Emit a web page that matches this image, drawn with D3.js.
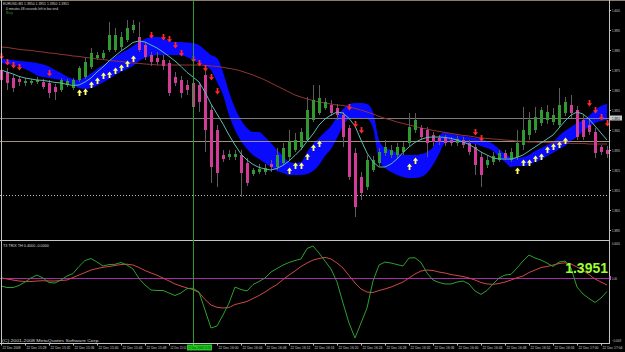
<!DOCTYPE html>
<html>
<head>
<meta charset="utf-8">
<script src="https://cdn.jsdelivr.net/npm/d3@7"></script>
<style>
html, body { margin: 0; padding: 0; background: #000; }
svg { display: block; font-family: "Liberation Sans", Arial, sans-serif; }
</style>
</head>
<body>
<svg id="chart" width="625" height="352"></svg>
<script>
// ---- candles, one per minute bar (bar 0 is at the left edge)
var openP = [1.3975,
1.3974,1.3971,1.39705,1.39685,1.39685,1.3969,1.3969,1.39685,1.39665,1.3965,
1.39675,1.3966,1.397,1.39715,1.39765,1.3981,1.3981,1.3985,1.3985,1.39865,
1.399,1.3995,1.39915,1.39875,1.39825,1.3981,1.398,1.39785,1.39715,1.397,
1.39675,1.39685,1.39675,1.39725,1.3955,1.3945,1.39325,1.39315,1.39315,1.39325,
1.39285,1.3923,1.3924,1.3924,1.3928,1.39265,1.39285,1.39315,1.3935,1.39365,
1.394,1.395,1.39535,1.3956,1.39575,1.3956,1.39525,1.3946,1.39335,1.39215,
1.39165,1.3925,1.39285,1.39335,1.39325,1.39325,1.3934,1.39385,1.3945,1.3946,
1.3945,1.39425,1.3941,1.3941,1.394,1.39385,1.394,1.39385,1.39365,1.39315,
1.39275,1.3929,1.393,1.39335,1.393,1.39315,1.39375,1.39425,1.3945,1.39485,
1.395,1.3949,1.39475,1.39535,1.39575,1.3955,1.395,1.39475,1.3944,1.39365,
1.3935];
var highP = [1.3977,
1.3976,1.3973,1.3972,1.3971,1.39705,1.39715,1.39705,1.397,1.3968,1.3971,
1.39705,1.3971,1.3977,1.3981,1.3986,1.3984,1.3985,1.3999,1.3996,1.3994,
1.4,1.4,1.3999,1.3989,1.3984,1.3984,1.39825,1.398,1.3974,1.3972,
1.397,1.397,1.3969,1.3975,1.39575,1.39475,1.3935,1.3935,1.3935,1.3935,
1.3931,1.3926,1.3928,1.3928,1.393,1.3936,1.39385,1.3945,1.39435,1.3946,
1.39615,1.39675,1.39675,1.3961,1.396,1.3958,1.3954,1.39475,1.3936,1.3924,
1.39325,1.3932,1.3936,1.394,1.39375,1.39385,1.3939,1.39535,1.39535,1.39475,
1.39465,1.3944,1.39425,1.39425,1.39415,1.3942,1.39415,1.394,1.3938,1.3934,
1.3932,1.3934,1.3935,1.3935,1.3936,1.3945,1.39565,1.3954,1.39565,1.39565,
1.39575,1.3956,1.3966,1.39615,1.39625,1.3957,1.39525,1.395,1.3946,1.39375,
1.3937];
var lowP = [1.3966,
1.3965,1.3964,1.3967,1.3967,1.39675,1.3968,1.39655,1.3961,1.396,1.3964,
1.39665,1.3965,1.3969,1.39705,1.39755,1.398,1.398,1.3984,1.3984,1.3985,
1.3989,1.39935,1.3984,1.398,1.3977,1.39775,1.3975,1.3962,1.3967,1.3961,
1.39625,1.3955,1.3954,1.3934,1.39185,1.39165,1.3929,1.393,1.393,1.39115,
1.3917,1.3922,1.3923,1.39225,1.3924,1.3925,1.39275,1.393,1.3934,1.3935,
1.3939,1.3949,1.39525,1.3955,1.3952,1.395,1.39365,1.392,1.39015,1.391,
1.3915,1.3924,1.3927,1.3932,1.3931,1.3931,1.39325,1.3937,1.39435,1.394,
1.39315,1.3937,1.39375,1.3937,1.3937,1.3937,1.3936,1.39325,1.39225,1.39165,
1.3926,1.39275,1.3929,1.393,1.3929,1.393,1.3935,1.394,1.39435,1.3947,
1.3948,1.39475,1.3946,1.3952,1.3951,1.394,1.394,1.39425,1.3931,1.39325,
1.3931];
var closeP = [1.397,
1.39685,1.3966,1.3969,1.39695,1.39695,1.397,1.39665,1.39635,1.3964,1.397,
1.39695,1.397,1.3976,1.3979,1.39835,1.39825,1.39835,1.39925,1.39925,1.39915,
1.3996,1.39975,1.3985,1.39815,1.3979,1.3979,1.3977,1.39635,1.39685,1.39635,
1.3965,1.39565,1.3959,1.3945,1.39265,1.39235,1.39305,1.3933,1.3933,1.39235,
1.39185,1.3925,1.39255,1.3926,1.39265,1.39325,1.3936,1.3939,1.394,1.3944,
1.3955,1.396,1.3961,1.3959,1.39535,1.39525,1.39415,1.39215,1.39065,1.39135,
1.393,1.393,1.3934,1.39365,1.3935,1.39365,1.39365,1.39465,1.395,1.39415,
1.39385,1.3939,1.3939,1.39385,1.39385,1.39405,1.39375,1.3934,1.39275,1.39225,
1.393,1.3932,1.39335,1.3931,1.3934,1.39385,1.3945,1.395,1.39515,1.3955,
1.3954,1.39525,1.39575,1.3959,1.39535,1.39415,1.39415,1.3944,1.39335,1.3934,
1.3933];

// ---- overlays
var maFast = [1.3975,
1.3974,1.3973,1.39718,1.3971,1.39705,1.397,1.39698,1.39693,1.39688,1.39685,
1.39678,1.39673,1.39675,1.3969,1.3971,1.3974,1.39765,1.39795,1.3982,1.39845,
1.39865,1.39888,1.39895,1.3989,1.39875,1.3986,1.3984,1.39818,1.39795,1.39768,
1.39738,1.39715,1.3969,1.3964,1.3958,1.3953,1.3948,1.39425,1.39375,1.3933,
1.393,1.39278,1.39263,1.39255,1.3925,1.39258,1.39273,1.39295,1.39323,1.39353,
1.39393,1.3943,1.39475,1.39505,1.39525,1.3954,1.39535,1.39508,1.3947,1.394,
1.39335,1.3929,1.39265,1.39265,1.3928,1.39305,1.39338,1.39365,1.39388,1.39403,
1.39413,1.39415,1.39415,1.39413,1.39408,1.394,1.3939,1.39378,1.3936,1.3934,
1.39325,1.3931,1.39305,1.39305,1.39305,1.39313,1.39325,1.39345,1.39365,1.39385,
1.39405,1.39425,1.3946,1.39495,1.39525,1.3954,1.3953,1.39505,1.3947,1.39435,
1.394];
var maSlow = [1.39865,
1.39863,1.39858,1.39853,1.3985,1.39848,1.39843,1.3984,1.39835,1.39833,1.39828,
1.39825,1.3982,1.39818,1.39813,1.3981,1.39805,1.39803,1.39798,1.39795,1.39793,
1.39788,1.39785,1.39783,1.3978,1.39778,1.39775,1.39775,1.39775,1.39775,1.39775,
1.39775,1.39775,1.39775,1.39773,1.3977,1.39768,1.39763,1.39758,1.39753,1.39745,
1.39735,1.39725,1.39713,1.397,1.39685,1.3967,1.39655,1.3964,1.39625,1.39615,
1.39605,1.39598,1.3959,1.39585,1.3958,1.39575,1.39573,1.39565,1.39558,1.3955,
1.3954,1.3953,1.39518,1.39508,1.395,1.3949,1.39483,1.39475,1.39468,1.3946,
1.39455,1.39448,1.39443,1.39438,1.39433,1.39428,1.39423,1.3942,1.39415,1.3941,
1.39408,1.39405,1.39403,1.394,1.39398,1.39395,1.39393,1.3939,1.3939,1.39388,
1.39388,1.39385,1.39385,1.39385,1.39383,1.39383,1.39383,1.3938,1.3938,1.3938,
1.3938];
var bandHi = [1.39805,
1.39803,1.398,1.39795,1.39793,1.3979,1.39785,1.39778,1.39768,1.3975,1.39735,
1.39718,1.39705,1.397,1.39715,1.39733,1.39755,1.39775,1.39795,1.39815,1.39835,
1.3985,1.3987,1.3989,1.39905,1.39915,1.39915,1.3991,1.39895,1.3989,1.3989,
1.39888,1.39885,1.39875,1.3985,1.39825,1.3981,1.3974,1.3964,1.3956,1.395,
1.3946,1.3944,1.3944,1.39415,1.39385,1.3935,1.3932,1.3929,1.39285,1.3929,
1.3934,1.3938,1.3941,1.3944,1.3947,1.39515,1.39555,1.3958,1.39585,1.39585,
1.3958,1.3954,1.394,1.3936,1.3935,1.39335,1.39325,1.39325,1.39325,1.3933,
1.3934,1.39365,1.3942,1.3944,1.3943,1.39425,1.3942,1.39415,1.3941,1.39405,
1.39395,1.3938,1.39355,1.3933,1.39315,1.3931,1.39315,1.39325,1.39345,1.3936,
1.39375,1.3939,1.3942,1.39445,1.39465,1.39485,1.395,1.3952,1.3955,1.3957,
1.3958];
var bandLo = [1.39785,
1.3978,1.39775,1.39768,1.39755,1.3974,1.39723,1.39715,1.3971,1.39705,1.397,
1.3969,1.39678,1.3966,1.39655,1.3966,1.39673,1.39688,1.39705,1.39725,1.3974,
1.39755,1.3977,1.39795,1.3981,1.3982,1.39825,1.39825,1.39825,1.39825,1.39823,
1.39815,1.398,1.39785,1.3977,1.3975,1.3969,1.39625,1.39525,1.3945,1.39395,
1.39355,1.39325,1.39305,1.39285,1.39265,1.39245,1.39235,1.39225,1.39225,1.39225,
1.3923,1.39245,1.39275,1.3932,1.39355,1.3941,1.3947,1.39505,1.3951,1.3951,
1.39505,1.3946,1.393,1.3926,1.3924,1.39225,1.39215,1.3921,1.3921,1.39215,
1.39235,1.39275,1.3933,1.39385,1.3939,1.3939,1.39388,1.39385,1.3938,1.3937,
1.3936,1.39345,1.39315,1.3929,1.39265,1.3927,1.3927,1.39275,1.3929,1.393,
1.3932,1.39335,1.39355,1.3937,1.39395,1.39415,1.39445,1.39465,1.39485,1.39495,
1.395];

// signal arrows
var sellBar = [0,1,2,3,8,25,27,28,29,30,32,33,34,35,36,58,59,60,79,80,98,99,100,101];
var sellPx = [1.3982,1.3979,1.39775,1.39765,1.39735,1.39925,1.39915,1.39905,1.39875,1.39835,1.39805,1.39785,1.3976,1.39715,1.39645,1.39565,1.3948,1.3945,1.3944,1.3941,1.39585,1.3955,1.39515,1.39485];
var buyBar = [13,14,15,16,17,18,19,20,21,22,48,49,50,51,52,53,68,69,86,87,88,89,90,91,92,93,94];
var buyPx = [1.39635,1.3964,1.39675,1.39695,1.3972,1.39725,1.39745,1.3976,1.3978,1.39805,1.39245,1.3927,1.3927,1.39315,1.3936,1.3938,1.39265,1.39295,1.39245,1.39285,1.39285,1.39305,1.39315,1.3935,1.39365,1.39375,1.39395];

// ---- lower window (T3 TRIX)
var trix = [-0.000115,-0.000137,-0.000137,-0.000108,-0.000058,0,0.000043,0,-0.000065,-0.000072,
-0.000029,0.000029,0.000065,0.000166,0.000252,0.000281,0.00023,0.000173,0.000194,0.000197,
0.000223,0.000187,0.00013,-0.000007,-0.000101,-0.000173,-0.00018,-0.00018,-0.000216,-0.000252,
-0.000216,-0.000151,-0.000148,-0.000202,-0.000461,-0.00072,-0.000691,-0.000533,-0.00036,-0.00013,
-0.000166,-0.000187,-0.000094,-0.00005,0,0.000086,0.000137,0.000187,0.000223,0.000252,
0.000274,0.000425,0.000461,0.00036,0.000245,0.00013,-0.000058,-0.00036,-0.000648,-0.000864,
-0.000648,-0.000432,-0.000043,0.000187,0.00023,0.000216,0.000194,0.000173,0.000288,0.000292,
0.000223,0.000072,-0.000029,-0.000065,-0.000086,-0.000086,-0.000058,-0.000043,-0.000086,-0.000187,
-0.000235,-0.00018,-0.000086,0,0.000043,0.000053,0.000144,0.000245,0.000331,0.000288,
0.000259,0.000216,0.000166,0.00023,0.000245,0.000144,-0.00013,-0.00023,-0.000295,-0.000353,
-0.000288,-0.000194];
var trixSig = [0.000004,-0.000014,-0.000029,-0.000043,-0.00005,-0.00005,-0.000043,-0.000039,-0.000043,-0.000043,
-0.000036,-0.000029,0.000007,0.000043,0.000079,0.000115,0.000137,0.000154,0.000166,0.00018,
0.000194,0.000199,0.000187,0.000151,0.000108,0.000072,0.00004,0,-0.000043,-0.000086,
-0.000115,-0.000144,-0.000166,-0.000209,-0.00031,-0.000389,-0.000422,-0.000432,-0.000425,-0.000382,
-0.00036,-0.000338,-0.000295,-0.000252,-0.000202,-0.000144,-0.000094,-0.000022,0.000043,0.000101,
0.000166,0.000216,0.000259,0.000281,0.000298,0.000274,0.000216,0.000144,0.000036,-0.000072,
-0.000158,-0.000202,-0.000209,-0.00018,-0.000158,-0.00013,-0.000094,-0.000058,0,0.000058,
0.000101,0.000115,0.000108,0.000086,0.000072,0.00005,0.000036,0.000022,0,-0.000029,
-0.000065,-0.000086,-0.000091,-0.000079,-0.000058,-0.000029,0.000004,0.000029,0.000079,0.000115,
0.000151,0.000166,0.000187,0.000209,0.000219,0.000202,0.000158,0.000108,0.00005,-0.000014,
-0.000058,-0.000101];

// ---- axes / levels
var priceTicks = [1.4005,1.3995,1.3985,1.3975,1.3965,1.3955,1.3945,1.3935,1.3925,1.3915,1.3905,1.3895];
var bidPrice = 1.3951, levelPrice = 1.39395, dottedPrice = 1.39123;
var cursorBar = 32;
var timeLabels = ["22 Dec 2008","22 Dec 15:28","22 Dec 15:32","22 Dec 15:36","22 Dec 15:40","22 Dec 15:44",
"22 Dec 15:48","22 Dec 15:52","22 Dec 15:56","22 Dec 16:00","22 Dec 16:04","22 Dec 16:08","22 Dec 16:12",
"22 Dec 16:16","22 Dec 16:20","22 Dec 16:24","22 Dec 16:28","22 Dec 16:32","22 Dec 16:36","22 Dec 16:40",
"22 Dec 16:44","22 Dec 16:48","22 Dec 16:52","22 Dec 16:56","22 Dec 17:00","22 Dec 17:04"];
var cursorLabel = "22 Dec 2008 15:56";
var subTicks = [0.0005, 0, -0.0009];

var svg = d3.select("#chart");
var axisR = 609;

var x = d3.scaleLinear().domain([0, 101]).range([1, 607]);
var y = d3.scaleLinear().domain([1.3890, 1.4010]).range([240, 0]);
var yi = d3.scaleLinear().domain([-0.0009, 0.0005]).range([340.5, 243.3]);
var bx = function(i) { return Math.round(x(i)); };

// terminal fonts are tiny and narrow: squeeze a text to the size seen on screen
function tiny(parent, x0, y0, str, w, fill) {
  var t = parent.append("text").attr("font-size", 4.6).attr("fill", fill).text(str);
  var len = t.node().getComputedTextLength();
  t.attr("transform", "translate(" + x0 + "," + y0 + ") scale(" + (w / len) + ",0.78)");
  return t;
}

var defs = svg.append("defs");
defs.append("clipPath").attr("id", "clipMain").append("rect")
  .attr("x", 0).attr("y", 1).attr("width", axisR).attr("height", 239);
defs.append("clipPath").attr("id", "clipSub").append("rect")
  .attr("x", 0).attr("y", 241).attr("width", axisR).attr("height", 102);

var main = svg.append("g").attr("clip-path", "url(#clipMain)");
var bars = d3.range(openP.length);

// blue cloud
main.append("path")
  .datum(bars)
  .attr("fill", "#0a0aff")
  .attr("d", d3.area()
    .x(function(i) { return x(i); })
    .y0(function(i) { return y(bandLo[i]); })
    .y1(function(i) { return y(bandHi[i]); })
    .curve(d3.curveMonotoneX));

// horizontal levels
function hline(p, color) {
  var yy = Math.round(y(p)) + 0.5;
  return main.append("line").attr("x1", 0).attr("x2", axisR)
    .attr("y1", yy).attr("y2", yy).attr("stroke", color);
}
hline(bidPrice, "#7a7a7a");
hline(levelPrice, "#9c9274");
hline(dottedPrice, "#b8b8b8").attr("stroke-dasharray", "1,2");

// slow MA
main.append("path").datum(bars)
  .attr("fill", "none").attr("stroke", "#8e3434").attr("stroke-width", 1)
  .attr("d", d3.line().x(function(i) { return x(i); }).y(function(i) { return y(maSlow[i]); }));

// candles
main.selectAll("line.wick").data(bars).join("line")
  .attr("class", "wick")
  .attr("x1", function(i) { return bx(i) + 0.5; })
  .attr("x2", function(i) { return bx(i) + 0.5; })
  .attr("y1", function(i) { return y(highP[i]); })
  .attr("y2", function(i) { return y(lowP[i]); })
  .attr("stroke", "#5c5c5c");
main.selectAll("rect.body").data(bars).join("rect")
  .attr("class", "body")
  .attr("x", function(i) { return bx(i) - 1; })
  .attr("width", 3)
  .attr("y", function(i) { return y(Math.max(openP[i], closeP[i])); })
  .attr("height", function(i) { return Math.max(1, Math.abs(y(openP[i]) - y(closeP[i]))); })
  .attr("fill", function(i) { return closeP[i] >= openP[i] ? "#2f9a2f" : "#d23c98"; });

// fast MA
main.append("path").datum(bars)
  .attr("fill", "none").attr("stroke", "#5cbcae").attr("stroke-width", 1)
  .attr("d", d3.line().x(function(i) { return x(i); }).y(function(i) { return y(maFast[i]); }));

// arrows
var upArrow = "M0,-3.5L2.6,-0.3L0.9,-0.3L0.9,3L-0.9,3L-0.9,-0.3L-2.6,-0.3Z";
var downArrow = "M0,3.5L2.6,0.3L0.9,0.3L0.9,-3L-0.9,-3L-0.9,0.3L-2.6,0.3Z";
main.selectAll("path.sell").data(sellBar).join("path")
  .attr("class", "sell")
  .attr("d", downArrow)
  .attr("transform", function(b, k) { return "translate(" + (bx(b) + 0.5) + "," + y(sellPx[k]) + ")"; })
  .attr("fill", "#ff2a2a");
main.selectAll("path.buy").data(buyBar).join("path")
  .attr("class", "buy")
  .attr("d", upArrow)
  .attr("transform", function(b, k) { return "translate(" + (bx(b) + 0.5) + "," + y(buyPx[k]) + ")"; })
  .attr("fill", "#ffff70");

// ---- lower window
var sub = svg.append("g").attr("clip-path", "url(#clipSub)");
sub.append("line").attr("x1", 0).attr("x2", axisR)
  .attr("y1", Math.round(yi(0)) + 0.5).attr("y2", Math.round(yi(0)) + 0.5)
  .attr("stroke", "#a42aa8");
sub.append("path").datum(bars)
  .attr("fill", "none").attr("stroke", "#d04848")
  .attr("d", d3.line().x(function(i) { return x(i); }).y(function(i) { return yi(trixSig[i]); }));
sub.append("path").datum(bars)
  .attr("fill", "none").attr("stroke", "#2ea02e")
  .attr("d", d3.line().x(function(i) { return x(i); }).y(function(i) { return yi(trix[i]); }));

svg.append("text")
  .attr("x", 608).attr("y", 273)
  .attr("text-anchor", "end")
  .attr("font-family", "Arial, 'Liberation Sans', sans-serif")
  .attr("font-weight", "bold").attr("font-size", 14)
  .attr("fill", "#98ff32")
  .text(d3.format(".4f")(bidPrice));

// ---- frame
var frame = svg.append("g").attr("stroke", "#c4c4c4").attr("fill", "none");
frame.append("line").attr("x1", 0).attr("x2", 625).attr("y1", 0.5).attr("y2", 0.5).attr("stroke", "#8c7c6c");
frame.append("line").attr("x1", 1.5).attr("x2", 1.5).attr("y1", 0).attr("y2", 343);
frame.append("line").attr("x1", 0).attr("x2", axisR).attr("y1", 240.5).attr("y2", 240.5);
frame.append("line").attr("x1", 0).attr("x2", axisR + 1).attr("y1", 343.5).attr("y2", 343.5);
frame.append("line").attr("x1", axisR + 0.5).attr("x2", axisR + 0.5).attr("y1", 0).attr("y2", 344);

// cursor line
svg.append("line")
  .attr("x1", bx(cursorBar) + 0.5).attr("x2", bx(cursorBar) + 0.5)
  .attr("y1", 1).attr("y2", 343)
  .attr("stroke", "#2e9a2e");

// ---- price axis
var pa = svg.append("g");
pa.selectAll("line").data(priceTicks).join("line")
  .attr("x1", axisR).attr("x2", axisR + 2)
  .attr("y1", function(d) { return Math.round(y(d)) + 0.5; })
  .attr("y2", function(d) { return Math.round(y(d)) + 0.5; })
  .attr("stroke", "#c4c4c4");
priceTicks.forEach(function(p) {
  tiny(pa, 612, y(p) + 1.5, d3.format(".4f")(p), 8, "#cfcfcf");
});
pa.append("rect").attr("x", 610).attr("y", y(bidPrice) - 2.5).attr("width", 12).attr("height", 5)
  .attr("fill", "#c8c8c8");
tiny(pa, 612, y(bidPrice) + 1.5, d3.format(".4f")(bidPrice), 8, "#000");

// lower window axis
var sa = svg.append("g");
subTicks.forEach(function(v) {
  var s = v === 0 ? "0.00" : d3.format(".4f")(v);
  tiny(sa, 612, yi(v) + 1.5, s, v === 0 ? 5 : (v < 0 ? 9 : 8), "#cfcfcf");
});
sa.append("rect").attr("x", 609.5).attr("y", yi(0) - 2).attr("width", 1.5).attr("height", 4)
  .attr("fill", "#d050d0");

// ---- time axis
var ta = svg.append("g");
ta.selectAll("line").data(timeLabels).join("line")
  .attr("x1", function(d, k) { return bx(k * 4) + 0.5; })
  .attr("x2", function(d, k) { return bx(k * 4) + 0.5; })
  .attr("y1", 343).attr("y2", 345.5)
  .attr("stroke", "#c4c4c4");
timeLabels.forEach(function(s, k) {
  if (k * 4 === cursorBar) return; // hidden under the cursor label
  tiny(ta, bx(k * 4) + 1.5, 349, s, k === 0 ? 18 : (k === 7 ? 16 : 20), "#cfcfcf");
});
ta.append("rect").attr("x", bx(cursorBar) - 6).attr("y", 344.5).attr("width", 25).attr("height", 6)
  .attr("fill", "#22cc22");
tiny(ta, bx(cursorBar) - 5, 349, cursorLabel, 23, "#003300");

// ---- captions
tiny(svg, 3, 5.3, "EURUSD,M1  1.3950 1.3951 1.3950 1.3951", 66, "#d8d8d8");
tiny(svg, 6, 9.6, "0 minutes 48 seconds left to bar end", 52, "#d8d8d8");
tiny(svg, 6, 13.9, "Buy", 7, "#2a8a2a");
tiny(svg, 3, 246.5, "T3 TRIX TH 0.4000 -0.0000", 46, "#d8d8d8");
tiny(svg, 2, 341.5, "(C) 2001-2008 MetaQuotes Software Corp.", 98, "#d8d8d8");
</script>
</body>
</html>
